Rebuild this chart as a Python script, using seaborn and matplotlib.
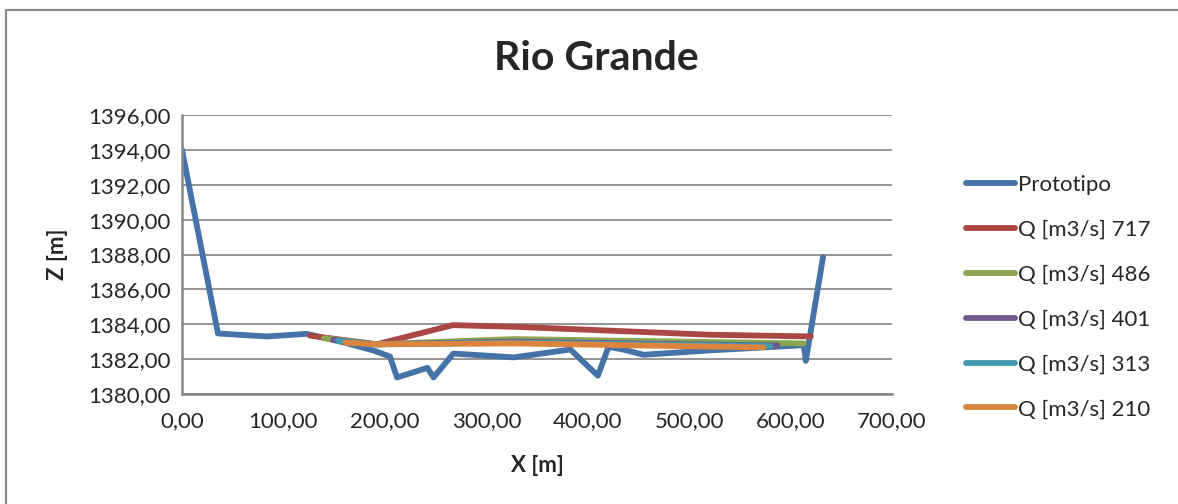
import pandas as pd
import matplotlib
matplotlib.use("Agg")
import matplotlib.pyplot as plt
from matplotlib.lines import Line2D
from matplotlib.ticker import FuncFormatter
import seaborn as sns

# cross-section of the river bed and water surface for each discharge
proto_x = [0, 35.5, 84, 123, 160, 188.5, 205, 212, 242, 248, 267.5, 327, 383, 410, 420.5, 435, 455, 520, 613, 615, 632]
proto_z = [1394.0, 1383.47, 1383.3, 1383.45, 1382.95, 1382.5, 1382.15, 1380.95, 1381.5, 1380.95, 1382.32,
           1382.1, 1382.55, 1381.05, 1382.7, 1382.55, 1382.25, 1382.5, 1382.8, 1381.9, 1387.85]

q717_x = [126, 192, 267, 330, 520, 620]
q717_z = [1383.35, 1382.85, 1383.95, 1383.85, 1383.4, 1383.3]
q486_x = [140, 192, 327, 613]
q486_z = [1383.2, 1382.85, 1383.15, 1382.9]
q401_x = [149, 192, 327, 587]
q401_z = [1383.1, 1382.85, 1383.0, 1382.78]
q313_x = [154, 192, 327, 580]
q313_z = [1383.05, 1382.85, 1382.95, 1382.75]
q210_x = [161, 192, 327, 573]
q210_z = [1382.95, 1382.85, 1382.9, 1382.67]

labels = ["Prototipo", "Q [m3/s] 717", "Q [m3/s] 486", "Q [m3/s] 401", "Q [m3/s] 313", "Q [m3/s] 210"]
colors = ["#4572A7", "#AA4643", "#89A54E", "#71588F", "#4198AF", "#DB843D"]

series = [(proto_x, proto_z), (q717_x, q717_z), (q486_x, q486_z),
          (q401_x, q401_z), (q313_x, q313_z), (q210_x, q210_z)]
rows = []
for lab, (xs, zs) in zip(labels, series):
    for x, z in zip(xs, zs):
        rows.append({"serie": lab, "X": x, "Z": z})
df = pd.DataFrame(rows)

sns.set_style("white")
plt.rcParams['font.family'] = ['Lato', 'DejaVu Sans']

fig = plt.figure(figsize=(11.78, 5.04), dpi=100)
ax = fig.add_axes([182 / 1178, 1 - 394 / 504, 710 / 1178, 279 / 504])

sns.lineplot(data=df, x="X", y="Z", hue="serie", palette=dict(zip(labels, colors)),
             hue_order=labels, sort=False, estimator=None, lw=4.2, ax=ax, legend=False,
             solid_capstyle="round", solid_joinstyle="round")

ax.set_xlim(0, 700)
ax.set_ylim(1380, 1396)
ax.set_xticks(range(0, 701, 100))
ax.set_yticks(range(1380, 1397, 2))
fmt = FuncFormatter(lambda v, p: f"{v:.2f}".replace(".", ","))
ax.xaxis.set_major_formatter(fmt)
ax.yaxis.set_major_formatter(fmt)
ax.tick_params(length=0, labelsize=16)
ax.tick_params(axis="y", pad=8)
ax.tick_params(axis="x", pad=12)
ax.grid(axis="y", color="#8c8c8c", lw=1.3)
ax.set_axisbelow(True)
for s in ["top", "right"]:
    ax.spines[s].set_visible(False)
for s in ["left", "bottom"]:
    ax.spines[s].set_color("#868686")
    ax.spines[s].set_linewidth(1.8)
ax.set_xlabel("")
ax.set_ylabel("")

fig.text(596 / 1178, 1 - 58 / 504, "Rio Grande", ha="center", va="center", fontsize=29.5, fontweight="bold")
fig.text(537 / 1178, 1 - 465 / 504, "X [m]", ha="center", va="center", fontsize=16, fontweight="bold")
fig.text(58 / 1178, 1 - 254 / 504, "Z [m]", ha="center", va="center", fontsize=16, fontweight="bold", rotation=90)

handles = [Line2D([], [], color=c, lw=4.2, solid_capstyle="round") for c in colors]
fig.legend(handles, labels, loc="center left", bbox_to_anchor=(966 / 1178, 1 - 297 / 504),
           frameon=False, fontsize=16, handlelength=2.2, handletextpad=0.12,
           labelspacing=1.12, borderpad=0, borderaxespad=0)

# chart border (top and left visible)
fig.add_artist(Line2D([6 / 1178, 1], [1 - 10 / 504] * 2, color="#8c8c8c", lw=1.6, transform=fig.transFigure))
fig.add_artist(Line2D([6 / 1178] * 2, [0, 1 - 10 / 504], color="#8c8c8c", lw=1.6, transform=fig.transFigure))

fig.savefig("out.png", dpi=100)
